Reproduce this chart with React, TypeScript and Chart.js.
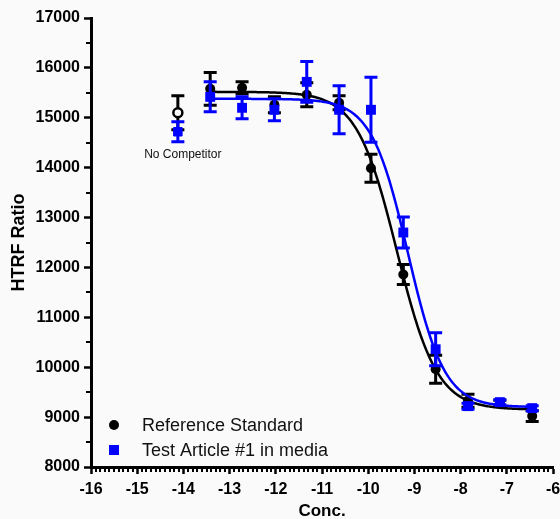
import React, { useEffect, useRef } from 'react';
import { Chart, registerables } from 'chart.js';

Chart.register(...registerables);

// ---- Data ----
const concLog = [-13.42, -12.73, -12.03, -11.33, -10.63, -9.94, -9.24, -8.54, -7.84, -7.15, -6.45];
const refMean = [15580, 15600, 15260, 15460, 15300, 13990, 11860, 9960, 9330, 9280, 9020];
const refErr = [330, 120, 160, 240, 140, 280, 200, 280, 130, 60, 110];
const testMean = [15420, 15200, 15160, 15720, 15160, 15160, 12700, 10360, 9220, 9300, 9180];
const testErr = [300, 220, 220, 410, 480, 650, 310, 330, 60, 50, 50];

const noCompLog = [-14.12];
const refNoCompMean = [15100];
const refNoCompErr = [340];
const testNoCompMean = [14720];
const testNoCompErr = [200];
const noCompLabel = 'No Competitor';
const noCompLabelY = [14270];

// 4PL fit parameters [top, bottom, logIC50, hill]
const refFitParams = [15520, 9150, -9.38, 1.0];
const testFitParams = [15380, 9200, -9.14, 1.1];

const seriesNames = ['Reference Standard', 'Test Article #1 in media'];
const xRange = [-16, -6];
const yRange = [8000, 17000];
const xMinorStep = 0.1;
const yMinorStep = 500;

const FONT = '"Liberation Sans", Arial, Helvetica, sans-serif';

function fitCurve(p: number[], x0: number, x1: number) {
  const [top, bottom, c, h] = p;
  const pts: { x: number; y: number }[] = [];
  const n = 280;
  for (let i = 0; i <= n; i++) {
    const x = x0 + ((x1 - x0) * i) / n;
    pts.push({ x, y: bottom + (top - bottom) / (1 + Math.pow(10, (x - c) * h)) });
  }
  return pts;
}

const toPts = (xs: number[], ys: number[]) => xs.map((x, i) => ({ x, y: ys[i] }));

const errorBarPlugin = {
  id: 'errorBars',
  beforeDatasetDraw(chart: any, args: any) {
    const ds = chart.data.datasets[args.index];
    if (!ds.errors) return;
    const yScale = chart.scales.y;
    const ctx = chart.ctx;
    ctx.save();
    ctx.strokeStyle = ds.errorColor;
    ctx.lineWidth = 3;
    ctx.lineCap = 'butt';
    args.meta.data.forEach((el: any, i: number) => {
      const d = ds.data[i];
      const e = ds.errors[i];
      const x = el.x;
      const yT = yScale.getPixelForValue(d.y + e);
      const yB = yScale.getPixelForValue(d.y - e);
      ctx.beginPath();
      ctx.moveTo(x, yT);
      ctx.lineTo(x, yB);
      ctx.moveTo(x - 6.5, yT);
      ctx.lineTo(x + 6.5, yT);
      ctx.moveTo(x - 6.5, yB);
      ctx.lineTo(x + 6.5, yB);
      ctx.stroke();
    });
    ctx.restore();
  },
};

const decorPlugin = {
  id: 'decor',
  beforeDraw(chart: any) {
    const ctx = chart.ctx;
    ctx.save();
    ctx.fillStyle = '#fafafa';
    ctx.fillRect(0, 0, chart.width, chart.height);
    ctx.restore();
  },
  afterDraw(chart: any) {
    const ctx = chart.ctx;
    const xs = chart.scales.x;
    const ys = chart.scales.y;
    const area = chart.chartArea;
    ctx.save();
    // minor ticks
    ctx.strokeStyle = '#000';
    ctx.lineWidth = 2;
    const nx = Math.round((xRange[1] - xRange[0]) / xMinorStep);
    for (let i = 1; i < nx; i++) {
      if (i % 10 === 0) continue;
      const px = Math.round(xs.getPixelForValue(xRange[0] + i * xMinorStep));
      ctx.beginPath();
      ctx.moveTo(px, area.bottom);
      ctx.lineTo(px, area.bottom + 5);
      ctx.stroke();
    }
    const ny = Math.round((yRange[1] - yRange[0]) / yMinorStep);
    for (let i = 1; i < ny; i += 2) {
      const py = Math.round(ys.getPixelForValue(yRange[0] + i * yMinorStep));
      ctx.beginPath();
      ctx.moveTo(area.left, py);
      ctx.lineTo(area.left - 5, py);
      ctx.stroke();
    }
    // "No Competitor" label
    ctx.fillStyle = '#111';
    ctx.font = `12px ${FONT}`;
    ctx.textAlign = 'center';
    ctx.textBaseline = 'middle';
    ctx.fillText(noCompLabel, xs.getPixelForValue(noCompLog[0]) + 5, ys.getPixelForValue(noCompLabelY[0]));
    // legend
    const lx = area.left + 23;
    const ly1 = area.bottom - 42;
    const ly2 = area.bottom - 17;
    ctx.fillStyle = '#000';
    ctx.beginPath();
    ctx.arc(lx, ly1, 5, 0, Math.PI * 2);
    ctx.fill();
    ctx.fillStyle = '#0000ff';
    ctx.fillRect(lx - 5, ly2 - 5, 10, 10);
    ctx.fillStyle = '#111';
    ctx.font = `18px ${FONT}`;
    ctx.textAlign = 'left';
    ctx.fillText(seriesNames[0], lx + 28, ly1 + 1);
    ctx.fillText(seriesNames[1], lx + 28, ly2 + 1);
    ctx.restore();
  },
};

export default function App() {
  const ref = useRef<HTMLCanvasElement | null>(null);
  useEffect(() => {
    if (!ref.current) return;
    const fitStart = concLog[0];
    const fitEnd = concLog[concLog.length - 1];
    const chart = new Chart(ref.current, {
      type: 'scatter',
      data: {
        datasets: [
          {
            label: seriesNames[1],
            data: toPts(concLog, testMean),
            errors: testErr,
            errorColor: '#0000ff',
            pointStyle: 'rect',
            pointRadius: 7,
            backgroundColor: '#0000ff',
            borderColor: '#0000ff',
            borderWidth: 0,
            showLine: false,
          } as any,
          {
            label: seriesNames[1] + ' NC',
            data: toPts(noCompLog, testNoCompMean),
            errors: testNoCompErr,
            errorColor: '#0000ff',
            pointStyle: 'rect',
            pointRadius: 6,
            backgroundColor: '#0000ff',
            borderColor: '#0000ff',
            borderWidth: 1,
            showLine: false,
          } as any,
          {
            label: seriesNames[1] + ' fit',
            data: fitCurve(testFitParams, fitStart, fitEnd),
            showLine: true,
            pointRadius: 0,
            borderColor: '#0000ff',
            borderWidth: 2.5,
            fill: false,
          },
          {
            label: seriesNames[0],
            data: toPts(concLog, refMean),
            errors: refErr,
            errorColor: '#000',
            pointStyle: 'circle',
            pointRadius: 5,
            backgroundColor: '#000',
            borderColor: '#000',
            borderWidth: 0,
            showLine: false,
          } as any,
          {
            label: seriesNames[0] + ' NC',
            data: toPts(noCompLog, refNoCompMean),
            errors: refNoCompErr,
            errorColor: '#000',
            pointStyle: 'circle',
            pointRadius: 4.5,
            backgroundColor: '#fafafa',
            borderColor: '#000',
            borderWidth: 2.5,
            showLine: false,
          } as any,
          {
            label: seriesNames[0] + ' fit',
            data: fitCurve(refFitParams, fitStart, fitEnd),
            showLine: true,
            pointRadius: 0,
            borderColor: '#000',
            borderWidth: 2.5,
            fill: false,
          },
        ],
      },
      options: {
        responsive: false,
        animation: false,
        events: [],
        layout: { padding: { left: 0, right: 7, top: 18, bottom: 0 } },
        plugins: { legend: { display: false }, tooltip: { enabled: false } },
        scales: {
          x: {
            type: 'linear',
            min: xRange[0],
            max: xRange[1],
            afterFit: (s: any) => {
              s.paddingRight = 0;
              s.paddingLeft = 0;
              s.height = 52;
            },
            ticks: {
              stepSize: 1,
              color: '#000',
              padding: 6,
              font: { family: FONT, size: 16, weight: 'bold' },
            },
            grid: {
              drawOnChartArea: false,
              drawTicks: true,
              tickLength: 7,
              tickWidth: 2.5,
              tickColor: '#000',
            },
            border: { display: true, color: '#000', width: 3 },
            title: {
              display: true,
              text: 'Conc.',
              color: '#000',
              padding: { top: 0, bottom: -3 },
              font: { family: FONT, size: 17, weight: 'bold' },
            },
          },
          y: {
            type: 'linear',
            min: yRange[0],
            max: yRange[1],
            afterFit: (s: any) => {
              s.width = 91;
            },
            ticks: {
              stepSize: 1000,
              color: '#000',
              padding: 4,
              callback: (v: any) => String(v),
              font: { family: FONT, size: 16, weight: 'bold' },
            },
            grid: {
              drawOnChartArea: false,
              drawTicks: true,
              tickLength: 7,
              tickWidth: 2.5,
              tickColor: '#000',
            },
            border: { display: true, color: '#000', width: 3 },
            title: {
              display: true,
              text: 'HTRF Ratio',
              color: '#000',
              padding: { top: 8, bottom: 0 },
              font: { family: FONT, size: 18, weight: 'bold' },
            },
          },
        },
      } as any,
      plugins: [errorBarPlugin, decorPlugin],
    });
    return () => chart.destroy();
  }, []);
  return (
    <div style={{ position: 'absolute', left: 0, top: 0, width: 560, height: 519 }}>
      <canvas ref={ref} width={560} height={519} style={{ display: 'block' }} />
    </div>
  );
}
